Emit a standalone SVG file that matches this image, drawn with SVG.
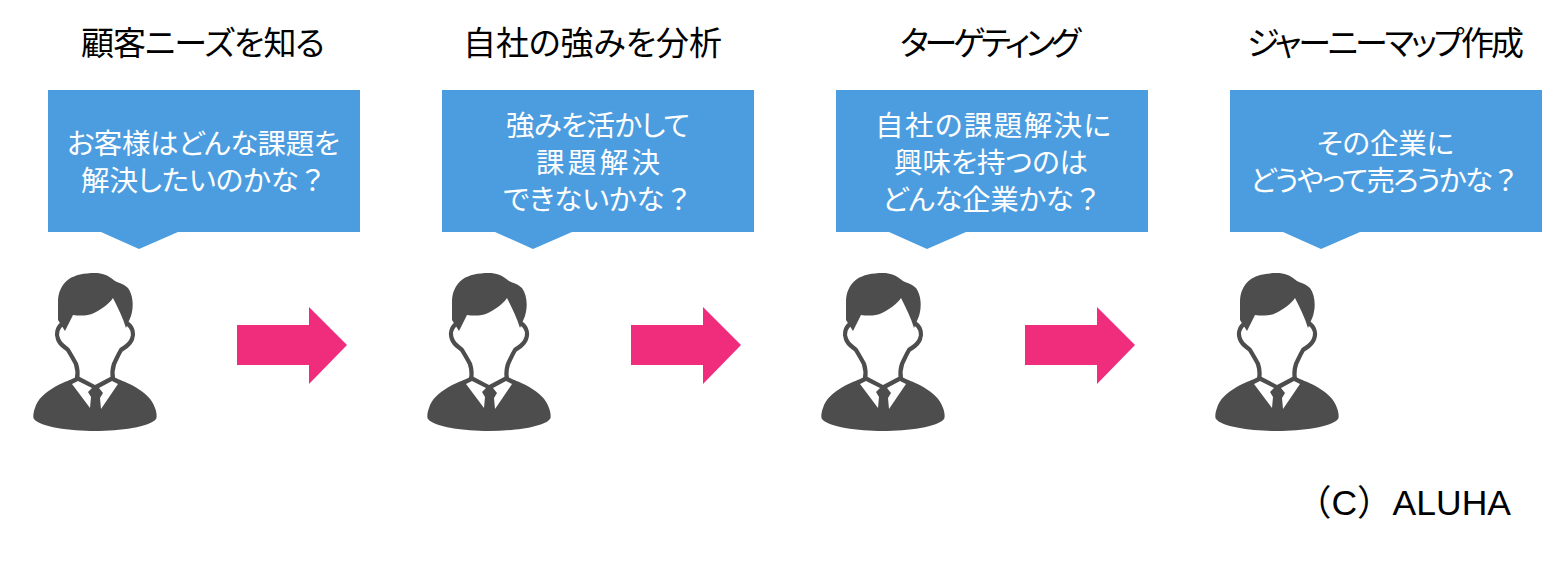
<svg xmlns="http://www.w3.org/2000/svg" width="1564" height="572" viewBox="0 0 1564 572">
<style>
text{font-family:"Noto Sans CJK JP","Noto Sans",sans-serif;text-anchor:middle}
.t{font-size:33px;fill:#000;font-feature-settings:"palt"}
.b{font-size:28.5px;fill:#fff;font-feature-settings:"palt"}
.q{font-feature-settings:normal}
.box{fill:#4c9ddf}
.arrow{fill:#f02c7c}
.d{fill:#4d4d4d}
.w{fill:#fff}
.o{fill:none;stroke:#4d4d4d;stroke-width:4.3;stroke-linejoin:round;stroke-linecap:round}
</style>
<defs>
<g id="person">
<path class="o" d="M62 324C57 328 56 334 58 339C60 345 65 347 68 350C71 355 74 360 76 364C78 370 78 374 77 379M128 324C133 328 134 334 132 339C130 345 125 347 121 350C118 355 116 360 114 364C112 370 112 374 113 379"/>
<path class="d" d="M58 320L65 331L73 315C80 316 88 316 94 313C102 309 109 304 113 298C118 308 123 318 126 328L131 316C134 306 133 295 128 288C124 284 119 283 115 281C108 275 102 273 95 273C84 273 75 275 69 279C61 285 58 293 58 302Z"/>
<path class="d" d="M72 379L78 376L95 385L112 376L118 379C122 381 150 390 155 408C157 413 157 418 156 419C150 427 120 431 95 431C70 431 40 427 34 419C33 418 33 413 35 408C40 390 68 381 72 379Z"/>
<path class="w" d="M72 384L78 381L92 388L88 392L91 397L90 408ZM118 384L112 381L99 388L103 393L100 398L101 409Z"/>
</g>
</defs>
<g id="connectors">
<path class="arrow" d="M237 325H309V307L347 345L309 384V365H237Z"/>
<path class="arrow" d="M631 325H703V307L741 345L703 384V365H631Z"/>
<path class="arrow" d="M1025 325H1097V307L1135 345L1097 384V365H1025Z"/>
</g>
<g id="node-1">
<text class="t" x="203" y="55" textLength="244" lengthAdjust="spacing">顧客ニーズを知る</text>
<path class="box" d="M48 90H360V232H178L139 249L101 232H48Z"/>
<text class="b" x="203.500" y="154" textLength="273" lengthAdjust="spacing">お客様はどんな課題を</text>
<text class="b" x="204" y="191" textLength="246" lengthAdjust="spacing">解決したいのかな<tspan class="q">？</tspan></text>
<use href="#person"/>
</g>
<g id="node-2">
<text class="t" x="592.500" y="55" textLength="259" lengthAdjust="spacing">自社の強みを分析</text>
<path class="box" d="M442 90H754V232H572L533 249L495 232H442Z"/>
<text class="b" x="598" y="136" textLength="184" lengthAdjust="spacing">強みを活かして</text>
<text class="b" x="598" y="173" textLength="124" lengthAdjust="spacing">課題解決</text>
<text class="b" x="598" y="210" textLength="190" lengthAdjust="spacing">できないかな<tspan class="q">？</tspan></text>
<use href="#person" x="394"/>
</g>
<g id="node-3">
<text class="t" x="990.500" y="55" textLength="181" lengthAdjust="spacing">ターゲティング</text>
<path class="box" d="M836 90H1148V232H966L927 249L889 232H836Z"/>
<text class="b" x="993" y="136" textLength="236" lengthAdjust="spacing">自社の課題解決に</text>
<text class="b" x="991" y="173" textLength="194" lengthAdjust="spacing">興味を持つのは</text>
<text class="b" x="992" y="210" textLength="220" lengthAdjust="spacing">どんな企業かな<tspan class="q">？</tspan></text>
<use href="#person" x="788"/>
</g>
<g id="node-4">
<text class="t" x="1385.500" y="55" textLength="277" lengthAdjust="spacing">ジャーニーマップ作成</text>
<path class="box" d="M1230 90H1542V232H1360L1321 249L1283 232H1230Z"/>
<text class="b" x="1385.500" y="154" textLength="137" lengthAdjust="spacing">その企業に</text>
<text class="b" x="1385" y="191" textLength="270" lengthAdjust="spacing">どうやって売ろうかな<tspan class="q">？</tspan></text>
<use href="#person" x="1182"/>
</g>
<text id="credit" x="1511" y="515" style="text-anchor:end;font-family:'Liberation Sans','Noto Sans CJK JP',sans-serif;font-size:35.500px;fill:#000">（C）ALUHA</text>
</svg>
